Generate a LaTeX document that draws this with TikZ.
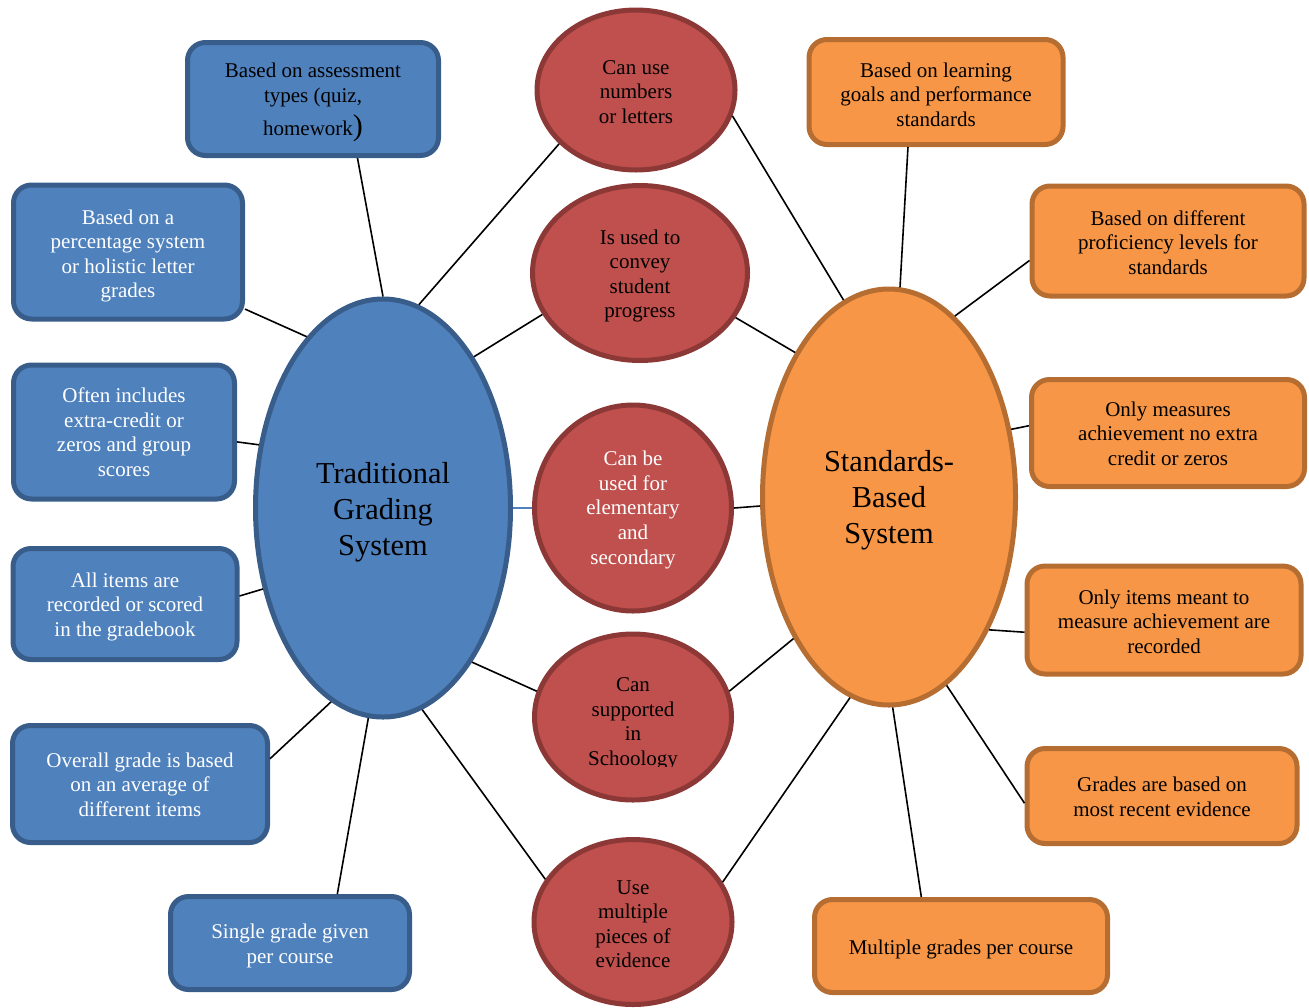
\documentclass[tikz,border=0pt]{standalone}
\usepackage{fontspec}
\setmainfont{Liberation Serif}
\usetikzlibrary{shapes.geometric}
\definecolor{tradfill}{HTML}{4F81BD}
\definecolor{tradline}{HTML}{385D8A}
\definecolor{midfill}{HTML}{C0504D}
\definecolor{midline}{HTML}{8C3836}
\definecolor{sbfill}{HTML}{F79646}
\definecolor{sbline}{HTML}{B66D31}
% centred block of lines, lowered by the optional amount
\newcommand\lns[2][1.2pt]{\raisebox{-#1}[\height][\depth]{\begin{tabular}{@{}c@{}}#2\end{tabular}}}

\begin{document}
\begin{tikzpicture}[x=0.5pt,y=-0.5pt,
  txt/.style={font=\fontsize{10.5}{12.3}\selectfont},
  box/.style={txt, rounded corners=9pt, line width=2.5pt, inner sep=0pt},
  tradbox/.style={box, draw=tradline, fill=tradfill, text=white},
  sbbox/.style={box, draw=sbline, fill=sbfill, text=black},
  bubble/.style={txt, ellipse, line width=2.5pt, draw=midline, fill=midfill, inner sep=0pt},
  hub/.style={ellipse, line width=2.5pt, inner sep=0pt, font=\fontsize{15.2}{18}\selectfont},
  link/.style={line width=0.8pt, draw=black},
]
\useasboundingbox (0,0) rectangle (1309,1007);

% central hubs
\node[hub, draw=tradline, fill=tradfill, minimum width=127.5pt, minimum height=209pt]
  (trad) at (383,508) {\lns[2pt]{Traditional\\Grading\\System}};
\node[hub, draw=sbline, fill=sbfill, minimum width=126.5pt, minimum height=208pt]
  (sb) at (889,497) {\lns[1.5pt]{Standards-\\Based\\System}};

% traditional grading boxes
\node[tradbox, text=black, minimum width=125.5pt, minimum height=56.5pt] (ta) at (313,99)
  {\lns[1.5pt]{Based on assessment\\types (quiz,\\[2.6pt]homework{\fontsize{15}{12.3}\selectfont)}}};
\node[tradbox, minimum width=114.5pt, minimum height=67pt] (tb) at (128,252)
  {\lns[2pt]{Based on a\\percentage system\\or holistic letter\\grades}};
\node[tradbox, minimum width=110.5pt, minimum height=67pt] (tc) at (124,432)
  {\lns[1.3pt]{Often includes\\extra-credit or\\zeros and group\\scores}};
\node[tradbox, minimum width=112pt, minimum height=55.5pt] (td) at (125,604)
  {\lns[1.5pt]{All items are\\recorded or scored\\in the gradebook}};
\node[tradbox, minimum width=127.5pt, minimum height=58.5pt] (te) at (140,784)
  {\lns[1.5pt]{Overall grade is based\\on an average of\\different items}};
\node[tradbox, minimum width=119.5pt, minimum height=46.5pt] (tf) at (290,943)
  {\lns[1.5pt]{Single grade given\\per course}};

% shared characteristics
\node[bubble, minimum width=99pt, minimum height=80pt] (m1) at (636,90)
  {\lns[2pt]{Can use\\numbers\\or letters}};
\node[bubble, minimum width=107.5pt, minimum height=87.5pt] (m2) at (640,273)
  {\lns[1.5pt]{Is used to\\convey\\student\\progress}};
\node[bubble, text=white, minimum width=98.5pt, minimum height=103pt] (m3) at (633,508)
  {\lns[1pt]{Can be\\used for\\elementary\\and\\secondary}};
\node[bubble, minimum width=98.5pt, minimum height=83pt] (m4) at (633,717) {};
\begin{scope}
  \clip (520,600) rectangle (750,766);
  \node[txt] (m4text) at (633,717) {\lns[3.2pt]{Can\\supported\\in\\Schoology}};
\end{scope}
\node[bubble, minimum width=99pt, minimum height=82.5pt] (m5) at (633,922)
  {\lns[2pt]{Use\\multiple\\pieces of\\evidence}};

% standards-based boxes
\node[sbbox, minimum width=127pt, minimum height=52.5pt] (sa) at (936,92)
  {\lns[2.5pt]{Based on learning\\goals and performance\\standards}};
\node[sbbox, minimum width=136pt, minimum height=55pt] (sbx) at (1168,241)
  {\lns[2pt]{Based on different\\proficiency levels for\\standards}};
\node[sbbox, minimum width=136.5pt, minimum height=53.5pt] (sc) at (1168,433)
  {\lns[1.5pt]{Only measures\\achievement no extra\\credit or zeros}};
\node[sbbox, minimum width=137pt, minimum height=54pt] (sd) at (1164,620)
  {\lns[2pt]{Only items meant to\\measure achievement are\\recorded}};
\node[sbbox, minimum width=135pt, minimum height=47.5pt] (se) at (1162,796)
  {\lns[1.5pt]{Grades are based on\\most recent evidence}};
\node[sbbox, minimum width=146.5pt, minimum height=46.5pt] (sf) at (961,946)
  {\lns[2pt]{Multiple grades per course}};

% connectors: traditional side
\draw[link] (ta.-53.3) -- (trad.90.5);
\draw[link] (tb.-26.4) -- (trad.114);
\draw[link] (tc.-5.9) -- (trad.153.6);
\draw[link] (td.4.5) -- (trad.214.7);
\draw[link] (te.11.6) -- (trad.255.1);
\draw[link] (tf.46.9) -- (trad.266.8);

% connectors: traditional hub to shared characteristics
\draw[link] (trad.80.9) -- (m1.215.5);
\draw[link] (trad.59) -- (m2.203.3);
\draw[line width=0.8pt, draw=tradfill] (trad.east) -- (m3.west);
\draw[link] (trad.-60.4) -- (m4.165.5);
\draw[link] (trad.-79.4) -- (m5.154.9);

% connectors: shared characteristics to standards-based hub
\draw[link] (m1.-15) -- (sb.103.6);
\draw[link] (m2.-25.2) -- (sb.123.8);
\draw[link] (m3.east) -- (sb.184.5);
\draw[link] (m4.15.6) -- (sb.236.7);
\draw[link] (m5.24.7) -- (sb.259.8);

% connectors: standards-based side
\draw[link] (sa.243.4) -- (sb.87.2);
\draw[link] (sbx.188.7) -- (sb.70.1);
\draw[link] (sc.177.1) -- (sb.29.7);
\draw[link] (sd.185) -- (sb.-53.3);
\draw[link] (se.183) -- (sb.-73.2);
\draw[link] (sb.-89.2) -- (sf.129.6);
\end{tikzpicture}
\end{document}
